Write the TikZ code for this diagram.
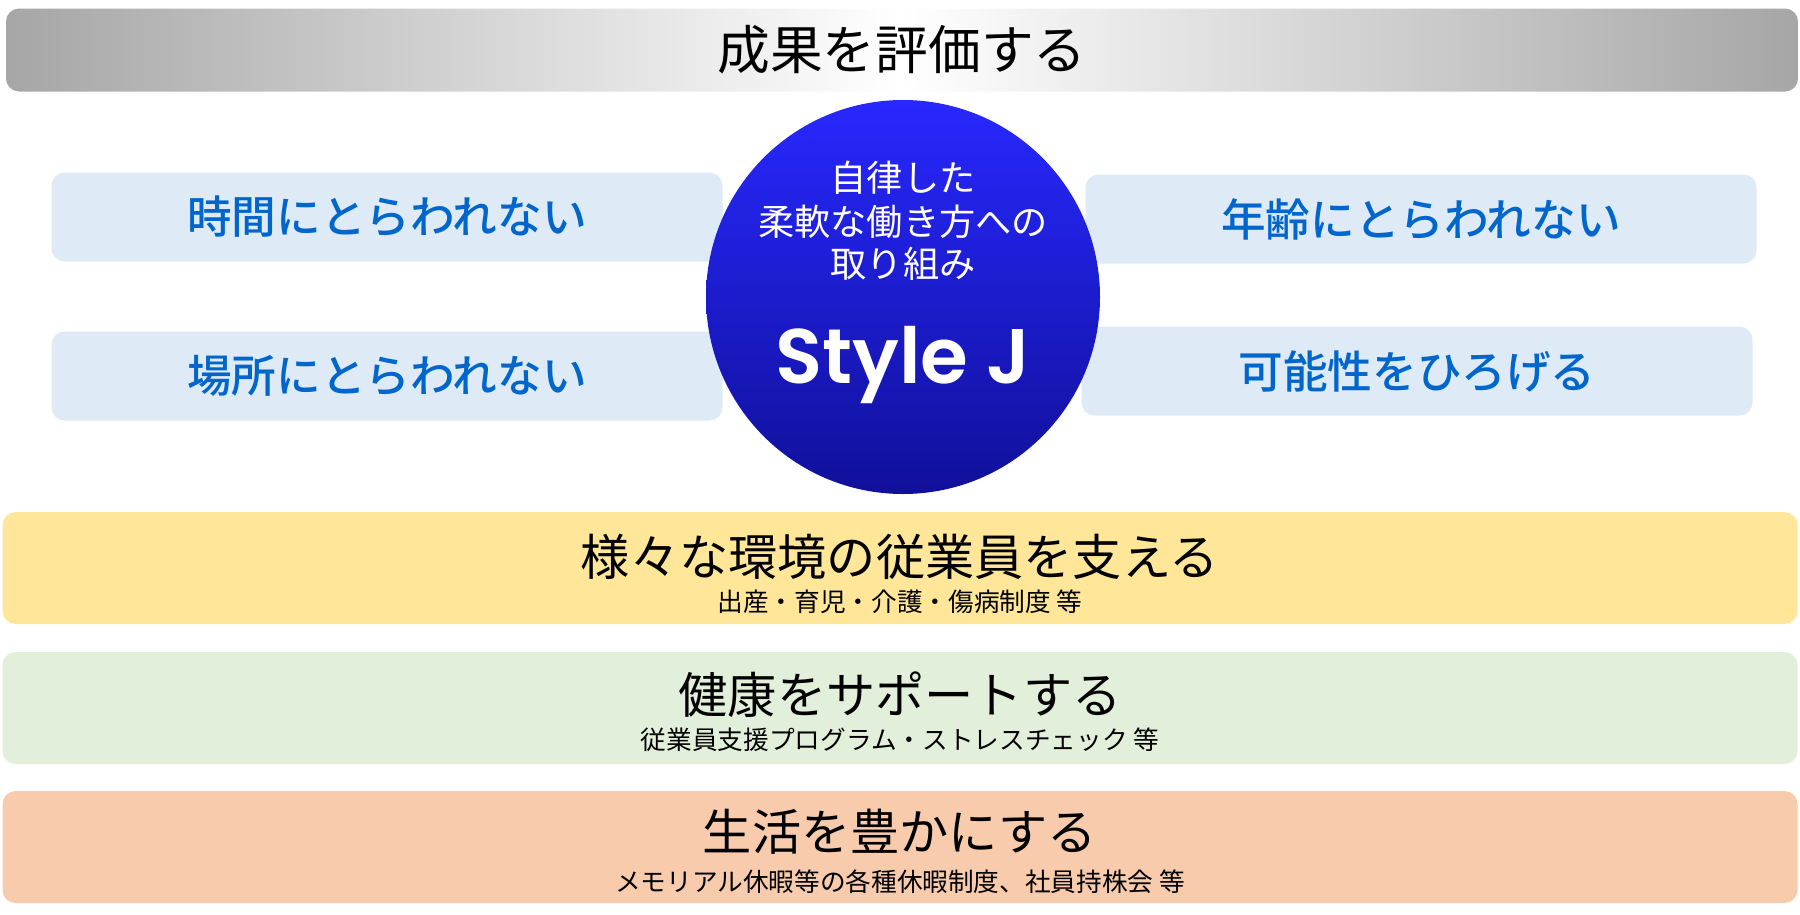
\documentclass[tikz,border=0pt]{standalone}
\usepackage{fontspec}
\newfontfamily\jpfont{Noto Sans CJK JP}
\newfontfamily\jpmedium{Noto Sans CJK JP Medium}
\newfontfamily\latinfont{Poppins SemiBold}
\definecolor{barends}{HTML}{A6A6A6}
\definecolor{pillfill}{HTML}{DEEAF6}
\definecolor{pillink}{HTML}{0066CC}
\definecolor{orbtop}{HTML}{2828FF}
\definecolor{orbbottom}{HTML}{10109A}
\definecolor{careyellow}{HTML}{FFE699}
\definecolor{caregreen}{HTML}{E2EFDA}
\definecolor{careorange}{HTML}{F8CBAD}

\begin{document}
\begin{tikzpicture}[
        x=0.1mm,y=-0.1mm,
        pill/.style={fill=pillfill,rounded corners=1.3mm,minimum width=67.1mm,
          minimum height=8.9mm,text=pillink,font=\jpmedium\fontsize{12.7}{15}\selectfont},
        band/.style={rounded corners=1.3mm,minimum width=179.5mm,minimum height=11.2mm},
        head/.style={font=\jpfont\fontsize{14}{17}\selectfont},
        note/.style={font=\jpfont\fontsize{7.3}{9}\selectfont},
        orbtext/.style={text=white,font=\jpfont\fontsize{10.3}{12}\selectfont}
      ]
        \useasboundingbox (0,0) rectangle (1800,914);
        % goal bar
        \node[rounded corners=1.3mm,minimum width=179.2mm,minimum height=8.3mm,
          left color=barends,right color=barends,middle color=white,
          font=\jpfont\fontsize{15}{18}\selectfont] (goal) at (902,50) {成果を評価する};
        % four pills round the orb
        \node[pill] (time) at (387,217) {時間にとらわれない};
        \node[pill] (place) at (387,376) {場所にとらわれない};
        \node[pill] (age) at (1421,219) {年齢にとらわれない};
        \node[pill] (scope) at (1417,371) {可能性をひろげる};
        \node[circle,minimum size=39.4mm,top color=orbtop,bottom color=orbbottom] (orb) at (903,297) {};
        \node[orbtext] (orbline1) at (903,178) {自律した};
        \node[orbtext] (orbline2) at (903,222) {柔軟な働き方への};
        \node[orbtext] (orbline3) at (903,264) {取り組み};
        \node[text=white,font=\latinfont\fontsize{22}{26}\selectfont] (stylej) at (903,365) {Style J};
        % support bands
        \node[band,fill=careyellow] (carebirth) at (900,568) {};
        \node[head] (birthhead) at (900,557) {様々な環境の従業員を支える};
        \node[note] (birthnote) at (900,602) {出産・育児・介護・傷病制度 等};
        \node[band,fill=caregreen] (carehealth) at (900,708) {};
        \node[head] (healthhead) at (900,695) {健康をサポートする};
        \node[note] (healthnote) at (900,740) {従業員支援プログラム・ストレスチェック 等};
        \node[band,fill=careorange] (carelife) at (900,847) {};
        \node[head] (lifehead) at (900,832) {生活を豊かにする};
        \node[note] (lifenote) at (900,882) {メモリアル休暇等の各種休暇制度、社員持株会 等};
      \end{tikzpicture}
\end{document}
